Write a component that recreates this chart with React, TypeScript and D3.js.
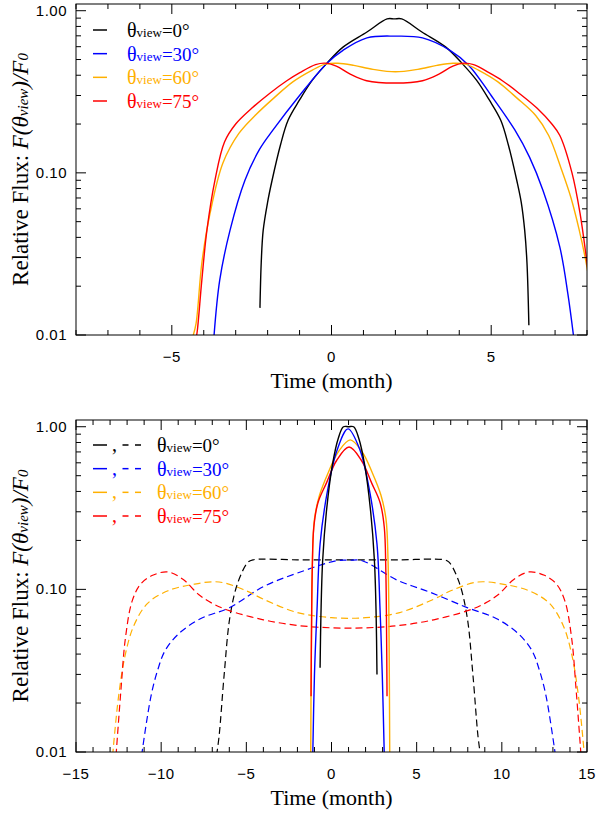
import React from 'react';
import * as d3 from 'd3';

const W = 597;
const H = 813;

const seriesColors = ['#000000', '#0000ff', '#ffb000', '#ff0000'];
const legendAngles = ['0°', '30°', '60°', '75°'];

const yTickValues = [0.01, 0.1, 1.0];
const yTickLabels = ['0.01', '0.10', '1.00'];

const topXTicks = [-5, 0, 5];
const bottomXTicks = [-15, -10, -5, 0, 5, 10, 15];

// ---------- Top panel (solid) ----------
const top0T = [-2.24, -2.2, -2.14, -2.0, -1.86, -1.6, -1.36, -1.0, -0.6, -0.14, 0.36, 1.11, 1.74, 1.97, 2.2, 2.83, 3.58, 4.08, 4.54, 4.94, 5.3, 5.54, 5.8, 5.94, 6.05, 6.12, 6.18];
const top0F = [0.0147, 0.028, 0.044, 0.066, 0.09, 0.148, 0.211, 0.2815, 0.373, 0.475, 0.596, 0.739, 0.89, 0.89, 0.89, 0.739, 0.596, 0.475, 0.373, 0.2815, 0.211, 0.148, 0.09, 0.066, 0.044, 0.028, 0.0115];

const top30T = [-3.68, -3.5, -3.18, -2.71, -2.25, -1.83, -1.0, -0.14, 0.36, 1.11, 1.99, 2.85, 3.71, 4.3, 5.0, 5.74, 6.2, 6.62, 7.15, 7.4, 7.58];
const top30F = [0.0098, 0.0218, 0.044, 0.09, 0.14, 0.184, 0.3, 0.475, 0.57, 0.68, 0.697, 0.68, 0.57, 0.46, 0.3, 0.184, 0.125, 0.078, 0.0348, 0.018, 0.0098];

const top60T = [-4.34, -4.24, -4.06, -3.8, -3.4, -2.9, -2.4, -1.8, -1.2, -0.6, -0.2, 0.2, 0.7, 1.3, 2.0, 2.7, 3.3, 3.8, 4.2, 4.6, 5.2, 5.8, 6.4, 6.8, 7.2, 7.5, 7.75, 7.94, 8.1];
const top60F = [0.0098, 0.0118, 0.0278, 0.0566, 0.115, 0.175, 0.225, 0.29, 0.365, 0.43, 0.468, 0.474, 0.46, 0.435, 0.42, 0.435, 0.46, 0.474, 0.468, 0.43, 0.365, 0.29, 0.225, 0.17, 0.105, 0.07, 0.045, 0.0302, 0.02];

const top75T = [-4.24, -4.2, -4.06, -3.9, -3.65, -3.35, -3.0, -2.5, -1.93, -1.4, -0.99, -0.5, -0.2, 0.15, 0.6, 1.1, 1.99, 2.85, 3.35, 3.8, 4.15, 4.45, 4.93, 5.35, 5.87, 6.44, 6.9, 7.15, 7.53, 7.78, 8.0, 8.1];
const top75F = [0.0095, 0.0107, 0.0218, 0.0444, 0.09, 0.155, 0.2, 0.25, 0.31, 0.37, 0.415, 0.465, 0.475, 0.455, 0.405, 0.37, 0.358, 0.37, 0.405, 0.455, 0.475, 0.465, 0.415, 0.37, 0.31, 0.25, 0.2, 0.17, 0.1, 0.0566, 0.028, 0.02];

// ---------- Bottom panel (solid) ----------
const bot0T = [-0.67, -0.62, -0.52, -0.3, 0.05, 0.4, 0.7, 1.0, 1.3, 1.6, 1.95, 2.3, 2.52, 2.62, 2.67];
const bot0F = [0.033, 0.07, 0.15, 0.3, 0.58, 0.85, 1.0, 1.0, 1.0, 0.85, 0.58, 0.3, 0.15, 0.07, 0.03];

const bot30T = [-1.1, -1.0, -0.85, -0.67, -0.26, 0.33, 0.97, 1.67, 2.26, 2.67, 2.85, 2.98, 3.1];
const bot30F = [0.0095, 0.03, 0.075, 0.19, 0.39, 0.72, 0.97, 0.72, 0.39, 0.19, 0.075, 0.03, 0.0095];

const bot60T = [-1.22, -1.18, -1.12, -1.0, -0.7, -0.2, 0.4, 1.1, 1.8, 2.4, 2.9, 3.2, 3.32, 3.38, 3.42];
const bot60F = [0.0095, 0.05, 0.15, 0.27, 0.38, 0.52, 0.7, 0.83, 0.7, 0.52, 0.38, 0.27, 0.15, 0.05, 0.0095];

const bot75T = [-1.2, -1.17, -1.13, -1.04, -0.8, -0.3, 0.3, 1.03, 1.76, 2.36, 2.86, 3.1, 3.19, 3.23, 3.26];
const bot75F = [0.022, 0.06, 0.13, 0.24, 0.34, 0.45, 0.62, 0.75, 0.62, 0.45, 0.34, 0.24, 0.13, 0.06, 0.022];

// ---------- Bottom panel (dashed) ----------
const dash0T = [-6.75, -6.6, -6.3, -5.96, -5.5, -4.9, -4.6, -2.0, 1.0, 4.0, 6.6, 6.9, 7.5, 7.96, 8.3, 8.6, 8.75];
const dash0F = [0.0095, 0.0125, 0.03, 0.068, 0.11, 0.147, 0.152, 0.152, 0.152, 0.152, 0.152, 0.147, 0.11, 0.068, 0.03, 0.0125, 0.0095];

const dash30T = [-11.15, -10.6, -10.2, -9.77, -9.0, -7.7, -6.0, -4.0, -2.0, 0.3, 1.05, 1.8, 3.85, 5.79, 8.0, 9.7, 11.0, 11.77, 12.2, 12.6, 13.15];
const dash30F = [0.0095, 0.022, 0.032, 0.042, 0.053, 0.066, 0.077, 0.104, 0.126, 0.15, 0.151, 0.15, 0.114, 0.096, 0.077, 0.066, 0.053, 0.042, 0.032, 0.022, 0.0095];

const dash60T = [-12.85, -12.5, -12.1, -11.6, -10.8, -9.6, -8.2, -6.6, -5.0, -4.0, -2.0, 0, 2, 4, 6, 7, 8.6, 10.2, 11.6, 12.8, 13.6, 14.1, 14.5, 14.85];
const dash60F = [0.0095, 0.022, 0.04, 0.06, 0.082, 0.098, 0.107, 0.111, 0.098, 0.087, 0.072, 0.067, 0.067, 0.072, 0.087, 0.098, 0.111, 0.107, 0.098, 0.082, 0.06, 0.04, 0.022, 0.0095];

const dash75T = [-12.65, -12.35, -12.1, -11.7, -11.2, -10.5, -9.6, -8.7, -7.8, -7.0, -6.0, -4.0, -2.0, 0, 2, 4, 6, 8, 9.0, 9.8, 10.7, 11.6, 12.5, 13.2, 13.7, 14.1, 14.35, 14.65];
const dash75F = [0.0095, 0.025, 0.05, 0.085, 0.108, 0.122, 0.128, 0.115, 0.093, 0.082, 0.074, 0.065, 0.06, 0.058, 0.058, 0.06, 0.065, 0.074, 0.082, 0.093, 0.115, 0.128, 0.122, 0.108, 0.085, 0.05, 0.025, 0.0095];

type Series = { t: number[]; f: number[]; color: string; dashed?: boolean };

const LEFT = 76;
const RIGHT = 587;

function Panel(props: {
  id: string;
  top: number;
  bottom: number;
  xDomain: [number, number];
  majorX: number[];
  series: Series[];
}) {
  const { id, top, bottom, xDomain, majorX, series } = props;
  const x = d3.scaleLinear().domain(xDomain).range([LEFT, RIGHT]);
  const y = d3.scaleLog().domain([0.01, 1.1]).range([bottom, top]);
  const line = d3
    .line<[number, number]>()
    .x((d) => x(d[0]))
    .y((d) => y(d[1]))
    .curve(d3.curveCatmullRom.alpha(0.5));

  const minorX = d3.range(Math.ceil(xDomain[0]), Math.floor(xDomain[1]) + 1).filter((v) => !majorX.includes(v));
  const minorY: number[] = [];
  [0.01, 0.1].forEach((dec) => {
    for (let k = 2; k <= 9; k++) minorY.push(dec * k);
  });

  const tickStroke = { stroke: '#000', strokeWidth: 1 };
  const tickFont = "'Liberation Sans', Arial, Helvetica, sans-serif";
  const serif = "'Liberation Serif', 'Times New Roman', Times, serif";
  const midY = (top + bottom) / 2;

  return (
    <g>
      <defs>
        <clipPath id={`clip-${id}`}>
          <rect x={LEFT} y={top} width={RIGHT - LEFT} height={bottom - top} />
        </clipPath>
      </defs>
      <g clipPath={`url(#clip-${id})`}>
        {series.map((s, i) => (
          <path
            key={i}
            d={line(s.t.map((t, j) => [t, s.f[j]] as [number, number])) || ''}
            fill="none"
            stroke={s.color}
            strokeWidth={s.dashed ? 1.2 : 1.4}
            strokeDasharray={s.dashed ? '7,4' : undefined}
          />
        ))}
      </g>
      <rect x={LEFT} y={top} width={RIGHT - LEFT} height={bottom - top} fill="none" stroke="#000" strokeWidth={1} />
      {majorX.map((v) => (
        <g key={`mx${v}`}>
          <line x1={x(v)} x2={x(v)} y1={bottom} y2={bottom - 10} {...tickStroke} />
          <line x1={x(v)} x2={x(v)} y1={top} y2={top + 10} {...tickStroke} />
          <text x={x(v)} y={bottom + 27} textAnchor="middle" fontFamily={tickFont} fontSize={15} letterSpacing={0.5}>
            {v < 0 ? `\u2212${Math.abs(v)}` : `${v}`}
          </text>
        </g>
      ))}
      {minorX.map((v) => (
        <g key={`nx${v}`}>
          <line x1={x(v)} x2={x(v)} y1={bottom} y2={bottom - 5} {...tickStroke} />
          <line x1={x(v)} x2={x(v)} y1={top} y2={top + 5} {...tickStroke} />
        </g>
      ))}
      {yTickValues.map((v, i) => (
        <g key={`my${v}`}>
          <line x1={LEFT} x2={LEFT + 10} y1={y(v)} y2={y(v)} {...tickStroke} />
          <line x1={RIGHT} x2={RIGHT - 10} y1={y(v)} y2={y(v)} {...tickStroke} />
          <text x={LEFT - 9} y={y(v) + 5} textAnchor="end" fontFamily={tickFont} fontSize={15} letterSpacing={0.5}>
            {yTickLabels[i]}
          </text>
        </g>
      ))}
      {minorY.map((v) => (
        <g key={`ny${v}`}>
          <line x1={LEFT} x2={LEFT + 5} y1={y(v)} y2={y(v)} {...tickStroke} />
          <line x1={RIGHT} x2={RIGHT - 5} y1={y(v)} y2={y(v)} {...tickStroke} />
        </g>
      ))}
      <text x={(LEFT + RIGHT) / 2} y={bottom + 53} textAnchor="middle" fontFamily={serif} fontSize={22}>
        Time (month)
      </text>
      <text transform={`translate(28,${midY}) rotate(-90)`} textAnchor="middle" fontFamily={serif} fontSize={23}>
        <tspan>Relative Flux: </tspan>
        <tspan fontStyle="italic">F(θ</tspan>
        <tspan fontStyle="italic" fontSize={15}>view</tspan>
        <tspan fontStyle="italic">)/F</tspan>
        <tspan fontStyle="italic" fontSize={15}>0</tspan>
      </text>
    </g>
  );
}

function Legend(props: { top: number; withDash: boolean }) {
  const { top, withDash } = props;
  const serif = "'Liberation Serif', 'Times New Roman', Times, serif";
  const rows = d3.range(4);
  const rowY = d3.scaleLinear().domain([0, 3]).range([top, top + 71]);
  return (
    <g>
      {rows.map((i) => {
        const yy = rowY(i);
        const col = seriesColors[i];
        const textX = withDash ? 157 : 127;
        return (
          <g key={i}>
            <line x1={93} x2={107} y1={yy} y2={yy} stroke={col} strokeWidth={1.5} />
            {withDash && (
              <>
                <text x={112} y={yy + 6} fill={col} fontFamily={serif} fontSize={20}>
                  ,
                </text>
                <line x1={122.5} x2={128.5} y1={yy} y2={yy} stroke={col} strokeWidth={1.5} />
                <line x1={135} x2={141} y1={yy} y2={yy} stroke={col} strokeWidth={1.5} />
              </>
            )}
            <text x={textX} y={yy + 7} fill={col} fontFamily={serif} fontSize={20}>
              <tspan>θ</tspan>
              <tspan fontSize={13}>view</tspan>
              <tspan fontSize={19}>={legendAngles[i]}</tspan>
            </text>
          </g>
        );
      })}
    </g>
  );
}

export default function App() {
  const topSeries: Series[] = [
    { t: top0T, f: top0F, color: seriesColors[0] },
    { t: top30T, f: top30F, color: seriesColors[1] },
    { t: top60T, f: top60F, color: seriesColors[2] },
    { t: top75T, f: top75F, color: seriesColors[3] },
  ];
  const bottomSeries: Series[] = [
    { t: dash0T, f: dash0F, color: seriesColors[0], dashed: true },
    { t: dash30T, f: dash30F, color: seriesColors[1], dashed: true },
    { t: dash60T, f: dash60F, color: seriesColors[2], dashed: true },
    { t: dash75T, f: dash75F, color: seriesColors[3], dashed: true },
    { t: bot60T, f: bot60F, color: seriesColors[2] },
    { t: bot75T, f: bot75F, color: seriesColors[3] },
    { t: bot30T, f: bot30F, color: seriesColors[1] },
    { t: bot0T, f: bot0F, color: seriesColors[0] },
  ];
  return (
    <svg
      width={W}
      height={H}
      viewBox={`0 0 ${W} ${H}`}
      style={{ position: 'absolute', left: 0, top: 0, background: '#fff' }}
    >
      <rect x={0} y={0} width={W} height={H} fill="#fff" />
      <Panel id="top" top={4} bottom={335} xDomain={[-8, 8]} majorX={topXTicks} series={topSeries} />
      <Panel id="bot" top={420} bottom={752} xDomain={[-15, 15]} majorX={bottomXTicks} series={bottomSeries} />
      <Legend top={30} withDash={false} />
      <Legend top={445} withDash={true} />
    </svg>
  );
}
